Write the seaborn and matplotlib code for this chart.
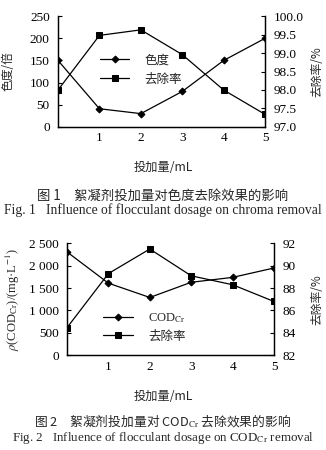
import matplotlib
matplotlib.use("Agg")
import matplotlib.pyplot as plt
import seaborn as sns
import pandas as pd

dosage = [0, 1, 2, 3, 4, 5]
chroma = [150, 41, 30, 80, 150, 200]
chroma_removal = [98.0, 99.48, 99.63, 98.96, 98.0, 97.34]
cod = [2310, 1610, 1290, 1630, 1740, 1950]
cod_removal = [84.45, 89.3, 91.5, 89.1, 88.3, 86.8]

x_ticks = [1, 2, 3, 4, 5]
chroma_ticks = [0, 50, 100, 150, 200, 250]
chroma_rr_ticks = [97.0, 97.5, 98.0, 98.5, 99.0, 99.5, 100.0]
cod_ticks = [0, 500, 1000, 1500, 2000, 2500]
cod_tick_labels = ["0", "500", "1 000", "1 500", "2 000", "2 500"]
cod_rr_ticks = [82, 84, 86, 88, 90, 92]

sns.set_theme(style="white")
plt.rcParams['font.family'] = ['Liberation Serif', 'Noto Sans CJK SC']
plt.rcParams['mathtext.fontset'] = 'stix'
CJK = ['Noto Sans CJK SC', 'DejaVu Sans']
SER = ['Liberation Serif', 'Noto Sans CJK SC']
TICK_FS = 9.5

fig = plt.figure(figsize=(3.26, 4.5), dpi=100)

df1 = pd.DataFrame({"x": dosage, "c": chroma, "r": chroma_removal})
df2 = pd.DataFrame({"x": dosage, "c": cod, "r": cod_removal})


def style_axes(ax, ax2):
    for a in (ax, ax2):
        a.spines['top'].set_visible(False)
        for s in ['left', 'right', 'bottom']:
            a.spines[s].set_color('black')
            a.spines[s].set_linewidth(0.9)
        a.tick_params(direction='in', length=3, width=0.8, colors='black',
                      labelsize=TICK_FS, pad=4)
        a.set_xlim(0, 5)
        a.set_xticks(x_ticks)
        a.set_xlabel("")
        a.set_ylabel("")
    ax.tick_params(axis='y', pad=6)
    ax2.tick_params(axis='y', pad=6)


# Chart 1
ax1 = fig.add_axes([0.178, 0.718, 0.635, 0.246])
ax1b = ax1.twinx()
sns.lineplot(data=df1, x="x", y="c", ax=ax1, color='black', marker='D',
             markersize=3.5, linewidth=0.9, markeredgecolor='black', label="色度", legend=False)
sns.lineplot(data=df1, x="x", y="r", ax=ax1b, color='black', marker='s',
             markersize=4.5, linewidth=0.9, markeredgecolor='black', label="去除率", legend=False)
style_axes(ax1, ax1b)
ax1.set_ylim(0, 250)
ax1.set_yticks(chroma_ticks)
ax1b.set_ylim(97.0, 100.0)
ax1b.set_yticks(chroma_rr_ticks)
ax1b.set_yticklabels([f"{v:.1f}" for v in chroma_rr_ticks])
for lab in ax1.get_xticklabels() + ax1.get_yticklabels() + ax1b.get_yticklabels():
    lab.set_fontfamily(SER)
h1, l1 = ax1.get_legend_handles_labels()
h2, l2 = ax1b.get_legend_handles_labels()
leg = ax1.legend(h1 + h2, l1 + l2, loc='upper left', bbox_to_anchor=(0.15, 0.765),
                 frameon=False, handlelength=2.3, handletextpad=1.2,
                 labelspacing=0.5, prop={'family': CJK, 'size': 9})
fig.text(0.025, 0.841, "色度/倍", rotation=90, ha='center', va='center',
         fontsize=8.5, family=CJK)
fig.text(0.972, 0.841, "去除率/%", rotation=90, ha='center', va='center',
         fontsize=8.5, family=CJK)
fig.text(0.5, 0.627, "投加量/mL", ha='center', va='center', fontsize=8.8, family=CJK)
fig.text(0.5, 0.565, "图 1　絮凝剂投加量对色度去除效果的影响", ha='center', va='center',
         fontsize=9.6, family=CJK)
fig.text(0.5, 0.533, "Fig. 1   Influence of flocculant dosage on chroma removal",
         ha='center', va='center', fontsize=9.8, family=SER)

# Chart 2
ax2 = fig.add_axes([0.2055, 0.211, 0.635, 0.248])
ax2b = ax2.twinx()
sns.lineplot(data=df2, x="x", y="c", ax=ax2, color='black', marker='D',
             markersize=3.5, linewidth=0.9, markeredgecolor='black',
             label=r"COD$_{\rm Cr}$", legend=False)
sns.lineplot(data=df2, x="x", y="r", ax=ax2b, color='black', marker='s',
             markersize=4.5, linewidth=0.9, markeredgecolor='black', label="去除率", legend=False)
style_axes(ax2, ax2b)
ax2.set_ylim(0, 2500)
ax2.set_yticks(cod_ticks)
ax2.set_yticklabels(cod_tick_labels)
ax2b.set_ylim(82, 92)
ax2b.set_yticks(cod_rr_ticks)
for lab in ax2.get_xticklabels() + ax2.get_yticklabels() + ax2b.get_yticklabels():
    lab.set_fontfamily(SER)
h1, l1 = ax2.get_legend_handles_labels()
h2, l2 = ax2b.get_legend_handles_labels()
leg2 = ax2.legend(h1 + h2, l1 + l2, loc='upper left', bbox_to_anchor=(0.12, 0.49),
                  frameon=False, handlelength=2.4, handletextpad=1.2,
                  labelspacing=0.35, prop={'family': CJK, 'size': 9})
leg2.get_texts()[0].set_fontfamily(SER)
fig.text(0.04, 0.335, r"$\rho$(COD$_{\rm Cr}$)/(mg·L$^{-1}$)", rotation=90,
         ha='center', va='center', fontsize=9, family=SER)
fig.text(0.972, 0.335, "去除率/%", rotation=90, ha='center', va='center',
         fontsize=8.5, family=CJK)
fig.text(0.5, 0.118, "投加量/mL", ha='center', va='center', fontsize=8.8, family=CJK)
fig.text(0.5, 0.064, r"图 2　絮凝剂投加量对 COD$_{\rm Cr}$ 去除效果的影响", ha='center',
         va='center', fontsize=9.2, family=CJK)
fig.text(0.5, 0.026, r"Fig. 2   Influence of flocculant dosage on COD$_{\rm Cr}$ removal",
         ha='center', va='center', fontsize=9.4, family=SER)

fig.savefig("out.png", dpi=100)
